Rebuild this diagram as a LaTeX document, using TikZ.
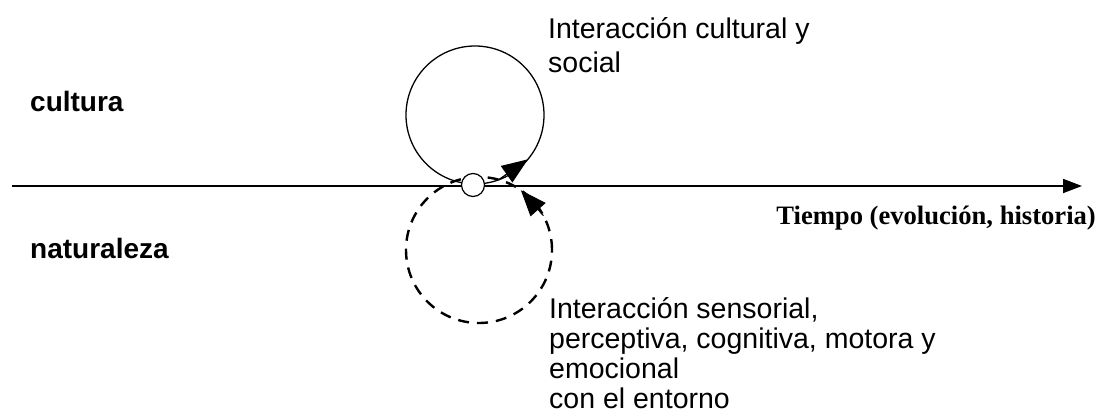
\documentclass[tikz,border=0pt]{standalone}
\usepackage{fontspec}
\setmainfont{Liberation Sans}
\newfontfamily\timesfont{Liberation Serif}
\usetikzlibrary{arrows.meta,calc}
\tikzset{
  axisline/.style={line width=1.8pt, -{Triangle[length=19pt,width=14pt]}},
  solidloop/.style={line width=1.3pt},
  dashloop/.style={line width=2.4pt, dash pattern=on 11pt off 8pt},
  looptip/.style={-{Triangle[length=26pt,width=20pt]}},
  lbl/.style={inner sep=0pt, font=\fontsize{28.5}{34}\selectfont},
  blbl/.style={inner sep=0pt, font=\fontsize{28}{33}\selectfont\bfseries},
  tlbl/.style={inner sep=0pt, font=\fontsize{26.6}{30}\selectfont\timesfont\bfseries},
}
\begin{document}
\begin{tikzpicture}[x=1pt,y=1pt]
\useasboundingbox (0,0) rectangle (1099,-417);
% axis
\coordinate (a0) at (12,-186);
\coordinate (a1) at (1082,-186);
\draw[axisline] (a0) -- (a1);
% upper solid loop
\coordinate (c1) at (475,-115);
\draw[solidloop] (c1) circle[radius=69pt];
\coordinate (s0) at ($(c1)+(-70:69pt)$);
\coordinate (s1) at ($(c1)+(-40:69pt)$);
\draw[solidloop,looptip] (s0) -- (s1);
% lower dashed loop
\coordinate (c2) at (479,-250);
\draw[dashloop] (c2) circle[radius=73pt];
\coordinate (d0) at ($(c2)+(28:73pt)$);
\coordinate (d1) at ($(c2)+(55:73pt)$);
\draw[line width=1pt,looptip] (d0) -- (d1);
% small circle
\node[circle,draw,fill=white,minimum size=23pt,inner sep=0pt,line width=1.2pt] (o) at (473,-185) {};
% labels
\node[blbl,anchor=base west] (cul) at (30,-112) {cultura};
\node[blbl,anchor=base west] (nat) at (30,-258) {naturaleza};
\node[tlbl,anchor=base east] (tie) at (1096,-224) {Tiempo (evolución, historia)};
\node[lbl,anchor=north west,align=left] (top) at (548,-17) {Interacción cultural y\\social};
\node[lbl,anchor=north west,align=left,font=\fontsize{28.5}{30}\selectfont] (bot) at (549,-297) {Interacción sensorial,\\perceptiva, cognitiva, motora y\\emocional\\con el entorno};
\end{tikzpicture}
\end{document}
